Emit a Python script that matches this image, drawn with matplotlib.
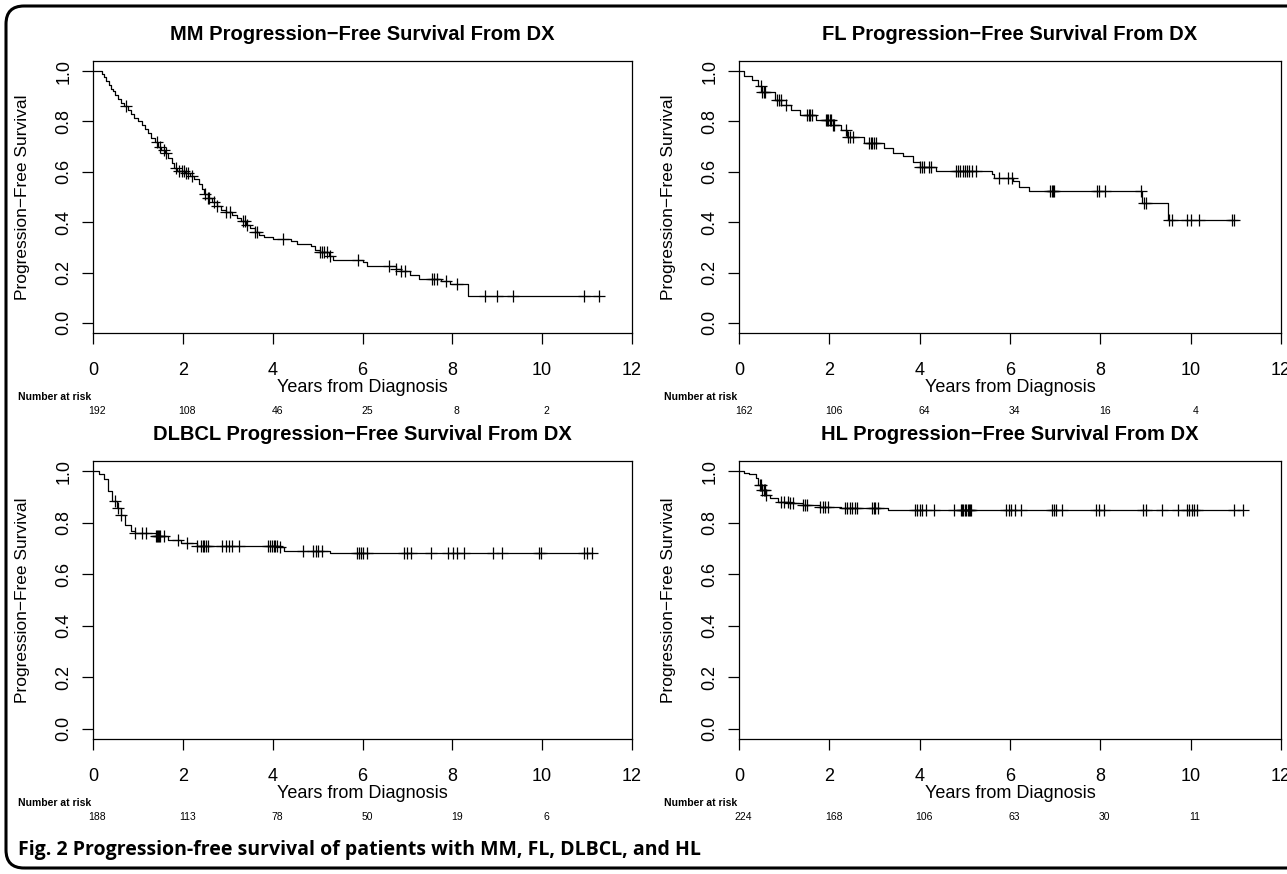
import numpy as np
import matplotlib
matplotlib.use("Agg")
import matplotlib.pyplot as plt
from matplotlib.patches import FancyBboxPatch
from matplotlib import font_manager
import matplotlib.transforms as mtransforms

plt.rcParams['font.family'] = ['Liberation Sans', 'DejaVu Sans']

# --- données ---
# MM
mm_t = [0.0, 0.20, 0.25, 0.30, 0.35, 0.40, 0.45, 0.50, 0.55, 0.62, 0.70, 0.78, 0.85, 0.92,
        1.00, 1.08, 1.15, 1.22, 1.30, 1.37, 1.45, 1.52, 1.60, 1.68, 1.75, 1.80, 1.88, 2.05,
        2.15, 2.25, 2.35, 2.42, 2.48, 2.55, 2.65, 2.75, 2.85, 2.95, 3.10, 3.20, 3.30, 3.40,
        3.50, 3.60, 3.70, 3.80, 4.00, 4.40, 4.55, 4.85, 4.95, 5.05, 5.25, 5.35, 6.00, 6.10,
        6.75, 6.85, 7.05, 7.25, 7.75, 7.95, 8.35]
mm_s = [1.0, 0.99, 0.975, 0.96, 0.945, 0.93, 0.92, 0.905, 0.89, 0.875, 0.86, 0.845, 0.83, 0.815,
        0.80, 0.785, 0.77, 0.755, 0.735, 0.72, 0.70, 0.685, 0.675, 0.655, 0.635, 0.615, 0.605, 0.595,
        0.585, 0.57, 0.55, 0.53, 0.51, 0.495, 0.48, 0.465, 0.45, 0.44, 0.43, 0.415, 0.405, 0.39,
        0.375, 0.36, 0.35, 0.34, 0.335, 0.325, 0.315, 0.305, 0.29, 0.28, 0.265, 0.25, 0.24, 0.225,
        0.215, 0.205, 0.19, 0.175, 0.165, 0.155, 0.108]
mm_cens = [0.74, 1.43, 1.50, 1.59, 1.63, 1.85, 1.92, 1.98, 2.02, 2.08, 2.12, 2.20, 2.50, 2.55,
           2.58, 2.70, 2.75, 2.95, 3.05, 3.35, 3.38, 3.42, 3.60, 3.65, 4.23, 5.05, 5.10, 5.15,
           5.22, 5.28, 5.90, 6.60, 6.75, 6.85, 6.95, 7.55, 7.60, 7.65, 7.85, 8.10, 8.72, 9.00,
           9.35, 10.94, 11.26]
mm_risk = [192, 108, 46, 25, 8, 2]

# FL
fl_t = [0.0, 0.11, 0.29, 0.43, 0.50, 0.80, 0.93, 1.16, 1.35, 1.71, 2.08, 2.26, 2.40, 2.77,
        3.22, 3.40, 3.63, 3.86, 4.00, 4.37, 5.60, 5.65, 6.06, 6.20, 6.43, 8.93, 9.50]
fl_s = [1.0, 0.98, 0.964, 0.94, 0.915, 0.885, 0.865, 0.845, 0.825, 0.805, 0.785, 0.766, 0.74, 0.713,
        0.693, 0.674, 0.663, 0.64, 0.62, 0.604, 0.592, 0.575, 0.562, 0.54, 0.522, 0.476, 0.407]
fl_cens = [0.48, 0.52, 0.55, 0.58, 0.85, 0.88, 0.92, 1.05, 1.50, 1.55, 1.58, 1.62, 1.92, 1.95,
           1.98, 2.01, 2.04, 2.08, 2.10, 2.38, 2.42, 2.46, 2.52, 2.88, 2.92, 2.95, 2.99, 3.03,
           4.00, 4.05, 4.10, 4.20, 4.25, 4.80, 4.85, 4.90, 4.95, 5.00, 5.05, 5.10, 5.15, 5.25,
           5.75, 5.95, 6.05, 6.89, 6.92, 6.95, 6.98, 7.92, 7.96, 8.10, 8.90, 8.97, 9.00, 9.51,
           9.59, 9.91, 10.00, 10.18, 10.92, 10.96]
fl_risk = [162, 106, 64, 34, 16, 4]

# DLBCL
dl_t = [0.0, 0.14, 0.25, 0.34, 0.43, 0.53, 0.62, 0.71, 0.85, 0.94, 1.40, 1.68, 1.95, 2.32,
        4.17, 4.26, 5.27]
dl_s = [1.0, 0.99, 0.971, 0.925, 0.885, 0.859, 0.832, 0.793, 0.767, 0.76, 0.747, 0.733, 0.72,
        0.711, 0.704, 0.69, 0.681]
dl_cens = [0.50, 0.55, 0.62, 0.94, 1.08, 1.17, 1.40, 1.42, 1.44, 1.46, 1.49, 1.58, 1.90, 2.09,
           2.32, 2.40, 2.44, 2.48, 2.52, 2.55, 2.88, 2.95, 3.02, 3.10, 3.24, 3.89, 3.94, 3.98,
           4.02, 4.06, 4.10, 4.17, 4.67, 4.90, 4.96, 5.02, 5.09, 5.87, 5.92, 5.96, 6.00, 6.10,
           6.93, 6.98, 7.07, 7.53, 7.90, 8.02, 8.10, 8.27, 8.91, 9.10, 9.93, 9.97, 10.94, 10.99,
           11.12]
dl_risk = [188, 113, 78, 50, 19, 6]

# HL
hl_t = [0.0, 0.10, 0.23, 0.37, 0.41, 0.50, 0.60, 0.69, 0.87, 1.10, 1.42, 1.79, 2.25, 3.30]
hl_s = [1.0, 0.995, 0.99, 0.975, 0.948, 0.929, 0.909, 0.895, 0.882, 0.876, 0.869, 0.862, 0.856,
        0.849]
hl_cens = [0.46, 0.49, 0.52, 0.55, 0.58, 0.60, 0.92, 1.00, 1.08, 1.14, 1.19, 1.42, 1.47, 1.51,
           1.79, 1.85, 1.90, 1.97, 2.34, 2.40, 2.45, 2.50, 2.56, 2.61, 2.94, 2.98, 3.02, 3.07,
           3.90, 3.95, 4.00, 4.05, 4.13, 4.31, 4.77, 4.91, 4.94, 4.97, 5.00, 5.03, 5.06, 5.09,
           5.12, 5.14, 5.92, 5.97, 6.02, 6.10, 6.24, 6.93, 6.97, 7.02, 7.16, 7.91, 7.96, 8.09,
           8.94, 9.02, 9.36, 9.72, 9.91, 9.96, 10.02, 10.08, 10.14, 10.96, 11.15]
hl_risk = [224, 168, 106, 63, 30, 11]

risk_years = [0, 2, 4, 6, 8, 10]

panels = [
    ("MM", mm_t, mm_s, mm_cens, mm_risk),
    ("FL", fl_t, fl_s, fl_cens, fl_risk),
    ("DLBCL", dl_t, dl_s, dl_cens, dl_risk),
    ("HL", hl_t, hl_s, hl_cens, hl_risk),
]

# police étroite pour "Number at risk" si disponible
noms = {f.name for f in font_manager.fontManager.ttflist}
petite = 'Liberation Sans Narrow' if 'Liberation Sans Narrow' in noms else 'Liberation Sans'

W, H = 1287, 874
fig = plt.figure(figsize=(W / 100, H / 100), dpi=100)

# positions des boîtes (pixels)
lefts = [93, 739]
rights = [632, 1281]
tops = [61, 461]
bottoms = [333, 739]

for k, (nom, t, s, cens, risk) in enumerate(panels):
    row, col = divmod(k, 2)
    x0, x1 = lefts[col], rights[col]
    y0, y1 = bottoms[row], tops[row]
    hpx = y0 - y1
    ax = fig.add_axes([x0 / W, 1 - y0 / H, (x1 - x0) / W, hpx / H])

    # courbe en escalier jusqu'au dernier suivi
    tmax = max(cens)
    tt = list(t) + [tmax]
    ss = list(s) + [s[-1]]
    ax.step(tt, ss, where='post', color='black', lw=0.9)

    # censures
    idx = np.searchsorted(np.array(t), np.array(cens), side='right') - 1
    ax.plot(cens, np.array(s)[idx], linestyle='none', marker='+', color='black',
            markersize=8, markeredgewidth=0.9)

    ax.set_xlim(0, 12)
    ax.set_ylim(-0.04, 1.04)
    ax.set_xticks(range(0, 13, 2))
    ax.set_yticks([0.0, 0.2, 0.4, 0.6, 0.8, 1.0])
    ax.set_yticklabels(["0.0", "0.2", "0.4", "0.6", "0.8", "1.0"], rotation=90, va='center')
    ax.tick_params(axis='x', direction='out', length=8, width=0.9, labelsize=13, pad=13)
    ax.tick_params(axis='y', direction='out', length=8, width=0.9, labelsize=13, pad=7)
    for sp in ax.spines.values():
        sp.set_linewidth(0.9)

    # textes placés en pixels par rapport à la boîte
    ax.text(0.5, 1 + 26 / hpx, f"{nom} Progression\u2212Free Survival From DX", transform=ax.transAxes,
            ha='center', va='center', fontsize=14.5, fontweight='bold')
    ax.text(-0.13, 0.5, "Progression\u2212Free Survival", transform=ax.transAxes,
            ha='center', va='center', rotation=90, fontsize=12.5)
    ax.text(0.5, -54 / hpx, "Years from Diagnosis", transform=ax.transAxes,
            ha='center', va='center', fontsize=13)

    # nombre de sujets à risque
    trans = mtransforms.blended_transform_factory(ax.transData, ax.transAxes)
    ax.text(-0.139, -64 / hpx, "Number at risk", transform=ax.transAxes, ha='left',
            va='center', fontsize=7.5, fontweight='bold', family=petite)
    for yr, n in zip(risk_years, risk):
        ax.text(yr + 0.1, -78 / hpx, str(n), transform=trans, ha='center', va='center',
                fontsize=7.5, family=petite)

# légende de la figure
fig.text(18 / W, 1 - 850 / H, "Fig. 2 Progression-free survival of patients with MM, FL, DLBCL, and HL",
         ha='left', va='center', fontsize=14, fontweight='bold',
         family=['Open Sans', 'DejaVu Sans'])

# cadre arrondi
cadre = FancyBboxPatch((6 / W, 6 / H), 1.2, 1 - 12 / H, boxstyle="round,pad=0,rounding_size=0.014",
                       transform=fig.transFigure, fill=False, edgecolor='black', lw=2.2,
                       mutation_aspect=W / H)
fig.patches.append(cadre)

fig.savefig("out.png", dpi=100)
